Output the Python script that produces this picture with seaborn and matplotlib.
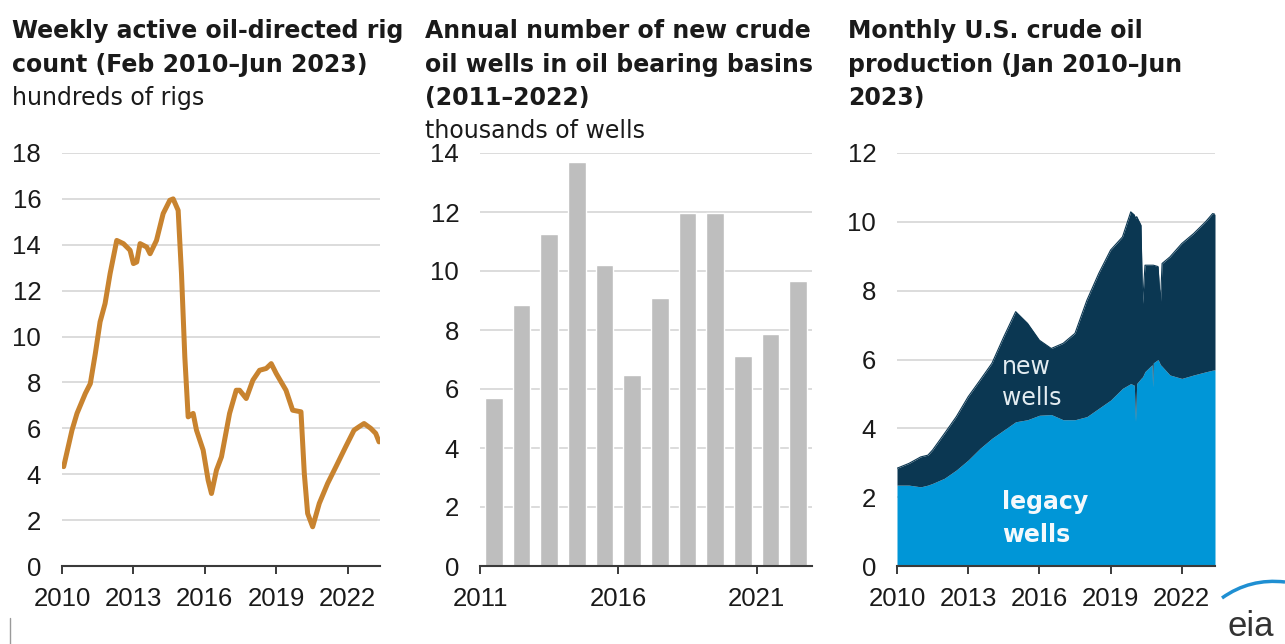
import numpy as np
import pandas as pd
import matplotlib
matplotlib.use("Agg")
import matplotlib.pyplot as plt
import seaborn as sns
from matplotlib.path import Path
from matplotlib.patches import PathPatch
from matplotlib.lines import Line2D

# Weekly active oil-directed rigs (hundreds)
rig_year = [2010.07, 2010.42, 2010.63, 2010.98, 2011.19, 2011.40, 2011.60, 2011.81,
            2012.02, 2012.30, 2012.58, 2012.86, 2013.00, 2013.14, 2013.28, 2013.56,
            2013.70, 2013.97, 2014.25, 2014.53, 2014.67, 2014.88, 2015.02, 2015.16,
            2015.30, 2015.51, 2015.65, 2015.93, 2016.14, 2016.28, 2016.49, 2016.70,
            2017.04, 2017.32, 2017.46, 2017.74, 2018.02, 2018.30, 2018.58, 2018.79,
            2019.00, 2019.41, 2019.69, 2020.04, 2020.18, 2020.32, 2020.53, 2020.81,
            2021.16, 2021.51, 2021.92, 2022.27, 2022.48, 2022.69, 2022.97, 2023.18,
            2023.32]
rig_count = [4.33, 5.92, 6.65, 7.52, 7.95, 9.26, 10.64, 11.44,
             12.74, 14.19, 14.05, 13.76, 13.18, 13.25, 14.05, 13.90,
             13.61, 14.19, 15.36, 15.94, 16.00, 15.50, 12.74, 9.11,
             6.50, 6.65, 5.92, 5.05, 3.74, 3.16, 4.18, 4.76,
             6.65, 7.66, 7.66, 7.30, 8.10, 8.53, 8.61, 8.82,
             8.39, 7.66, 6.79, 6.72, 4.03, 2.29, 1.71, 2.73,
             3.60, 4.33, 5.20, 5.92, 6.07, 6.21, 6.00, 5.78,
             5.41]

# Annual new crude oil wells (thousands)
well_years = [str(y) for y in range(2011, 2023)]
new_wells = [5.68, 8.84, 11.27, 13.70, 10.20, 6.46, 9.10, 11.97, 11.97, 7.11, 7.88, 9.66]
well_tick_labels = ["2011", "2016", "2021"]

# Monthly U.S. crude oil production (million b/d): total and legacy-well share
prod_year = [2010.00, 2010.50, 2011.00, 2011.30, 2011.50, 2012.00, 2012.50, 2013.00,
             2013.50, 2014.00, 2014.50, 2015.00, 2015.50, 2016.00, 2016.50, 2017.00,
             2017.50, 2018.00, 2018.50, 2019.00, 2019.50, 2019.85, 2020.00, 2020.05,
             2020.10, 2020.28, 2020.35, 2020.45, 2020.75, 2020.77, 2020.80, 2021.00,
             2021.10, 2021.17, 2021.50, 2022.00, 2022.50, 2023.00, 2023.30, 2023.40]
prod_total = [2.84, 2.98, 3.17, 3.22, 3.37, 3.85, 4.34, 4.92,
              5.40, 5.89, 6.66, 7.39, 7.05, 6.56, 6.32, 6.47,
              6.76, 7.72, 8.50, 9.18, 9.56, 10.29, 10.20, 10.10,
              10.15, 9.90, 7.63, 8.74, 8.74, 8.74, 8.74, 8.70,
              7.63, 8.79, 8.98, 9.37, 9.66, 10.00, 10.24, 10.22]
prod_legacy = [2.35, 2.35, 2.30, 2.35, 2.40, 2.55, 2.79, 3.08,
               3.42, 3.71, 3.95, 4.19, 4.25, 4.38, 4.40, 4.25,
               4.25, 4.34, 4.58, 4.82, 5.16, 5.30, 5.25, 4.20,
               5.30, 5.45, 5.50, 5.65, 5.85, 5.20, 5.90, 6.00,
               5.85, 5.80, 5.55, 5.45, 5.55, 5.64, 5.69, 5.70]

year_ticks = [2010, 2013, 2016, 2019, 2022]

sns.set_style("white")
plt.rcParams["font.family"] = ["Liberation Sans", "DejaVu Sans"]
HEAD_FONT = ["DejaVu Sans"]

W, H = 1285, 644
fig = plt.figure(figsize=(W / 100, H / 100), dpi=100)


def px_axes(x0, x1, ytop, ybot):
    return fig.add_axes([x0 / W, 1 - ybot / H, (x1 - x0) / W, (ybot - ytop) / H])


def style(ax, ymax, ystep):
    ax.set_ylim(0, ymax)
    ax.set_yticks(np.arange(0, ymax + 0.01, ystep))
    ax.grid(axis="y", color="#dcdcdc", lw=1.4)
    ax.grid(axis="x", visible=False)
    ax.set_axisbelow(True)
    for s in ["top", "right", "left"]:
        ax.spines[s].set_visible(False)
    ax.spines["bottom"].set_color("#3a3a3a")
    ax.spines["bottom"].set_linewidth(1.5)
    ax.tick_params(axis="y", length=0, pad=15, labelsize=18.5, labelcolor="#1a1a1a")
    ax.tick_params(axis="x", length=6, width=1.4, color="#3a3a3a", direction="out",
                   pad=9, labelsize=18.5, labelcolor="#1a1a1a", bottom=True)
    ax.set_xlabel("")
    ax.set_ylabel("")
    ax.set_facecolor("white")


# Panel 1: rig count
ax1 = px_axes(62, 380, 153, 566)
sns.lineplot(x=rig_year, y=rig_count, ax=ax1, color="#C8832F", lw=3.6,
             estimator=None, sort=False)
ax1.set_xlim(2010, 2023.36)
ax1.set_xticks(year_ticks)
ax1.set_xticklabels([str(y) for y in year_ticks])
style(ax1, 18, 2)

# Panel 2: new wells
ax2 = px_axes(480, 812, 153, 566)
sns.barplot(x=well_years, y=new_wells, ax=ax2, color="#BEBEBE", saturation=1,
            width=0.65)
ax2.set_xlim(-0.5, 11.5)
ax2.set_xticks([-0.5, 4.5, 9.5])
ax2.set_xticklabels(well_tick_labels)
style(ax2, 14, 2)

# Panel 3: production split into legacy and new wells
ax3 = px_axes(897, 1215, 153, 566)
ax3.fill_between(prod_year, 0, prod_legacy, color="#0096D7", lw=0, zorder=2)
ax3.fill_between(prod_year, prod_legacy, prod_total, color="#0B3752", lw=0, zorder=2)
sns.lineplot(x=prod_year, y=prod_total, ax=ax3, color="#0B3752", lw=0.8,
             estimator=None, sort=False, zorder=3)
ax3.set_xlim(2010, 2023.4)
ax3.set_xticks(year_ticks)
ax3.set_xticklabels([str(y) for y in year_ticks])
style(ax3, 12, 2)
for txt, yv in [("new", 5.79), ("wells", 4.87)]:
    ax3.text(2014.44, yv, txt, color="#E3ECF1", fontsize=17, family=HEAD_FONT,
             va="center", ha="left", zorder=5)
for txt, yv in [("legacy", 1.87), ("wells", 0.90)]:
    ax3.text(2014.44, yv, txt, color="#F4F9FC", fontsize=17, family=HEAD_FONT,
             fontweight="bold", va="center", ha="left", zorder=5)


# Panel headings
def ftext(x, y, s, bold=True):
    fig.text(x / W, 1 - y / H, s, fontsize=17, color="#1a1a1a", family=HEAD_FONT,
             fontweight="bold" if bold else "normal", ha="left", va="baseline")


ftext(12, 38, "Weekly active oil-directed rig")
ftext(12, 72, "count (Feb 2010\u2013Jun 2023)")
ftext(12, 105, "hundreds of rigs", bold=False)

ftext(425, 38, "Annual number of new crude")
ftext(425, 72, "oil wells in oil bearing basins")
ftext(425, 105, "(2011\u20132022)")
ftext(425, 138, "thousands of wells", bold=False)

ftext(848, 38, "Monthly U.S. crude oil")
ftext(848, 72, "production (Jan 2010\u2013Jun")
ftext(848, 105, "2023)")

# eia logo
fig.text(1251 / W, 1 - 627 / H, "eia", fontsize=25, color="#333333",
         ha="center", va="center")
arc = Path([(1222 / W, 1 - 598 / H), (1250 / W, 1 - 578 / H), (1285 / W, 1 - 582 / H)],
           [Path.MOVETO, Path.CURVE3, Path.CURVE3])
fig.add_artist(PathPatch(arc, transform=fig.transFigure, fill=False,
                         edgecolor="#1F8FD2", lw=2.5))
fig.add_artist(Line2D([10 / W, 10 / W], [0, 1 - 618 / H], transform=fig.transFigure,
                      color="#9a9a9a", lw=1))

fig.savefig("out.png", dpi=100, facecolor="white")
